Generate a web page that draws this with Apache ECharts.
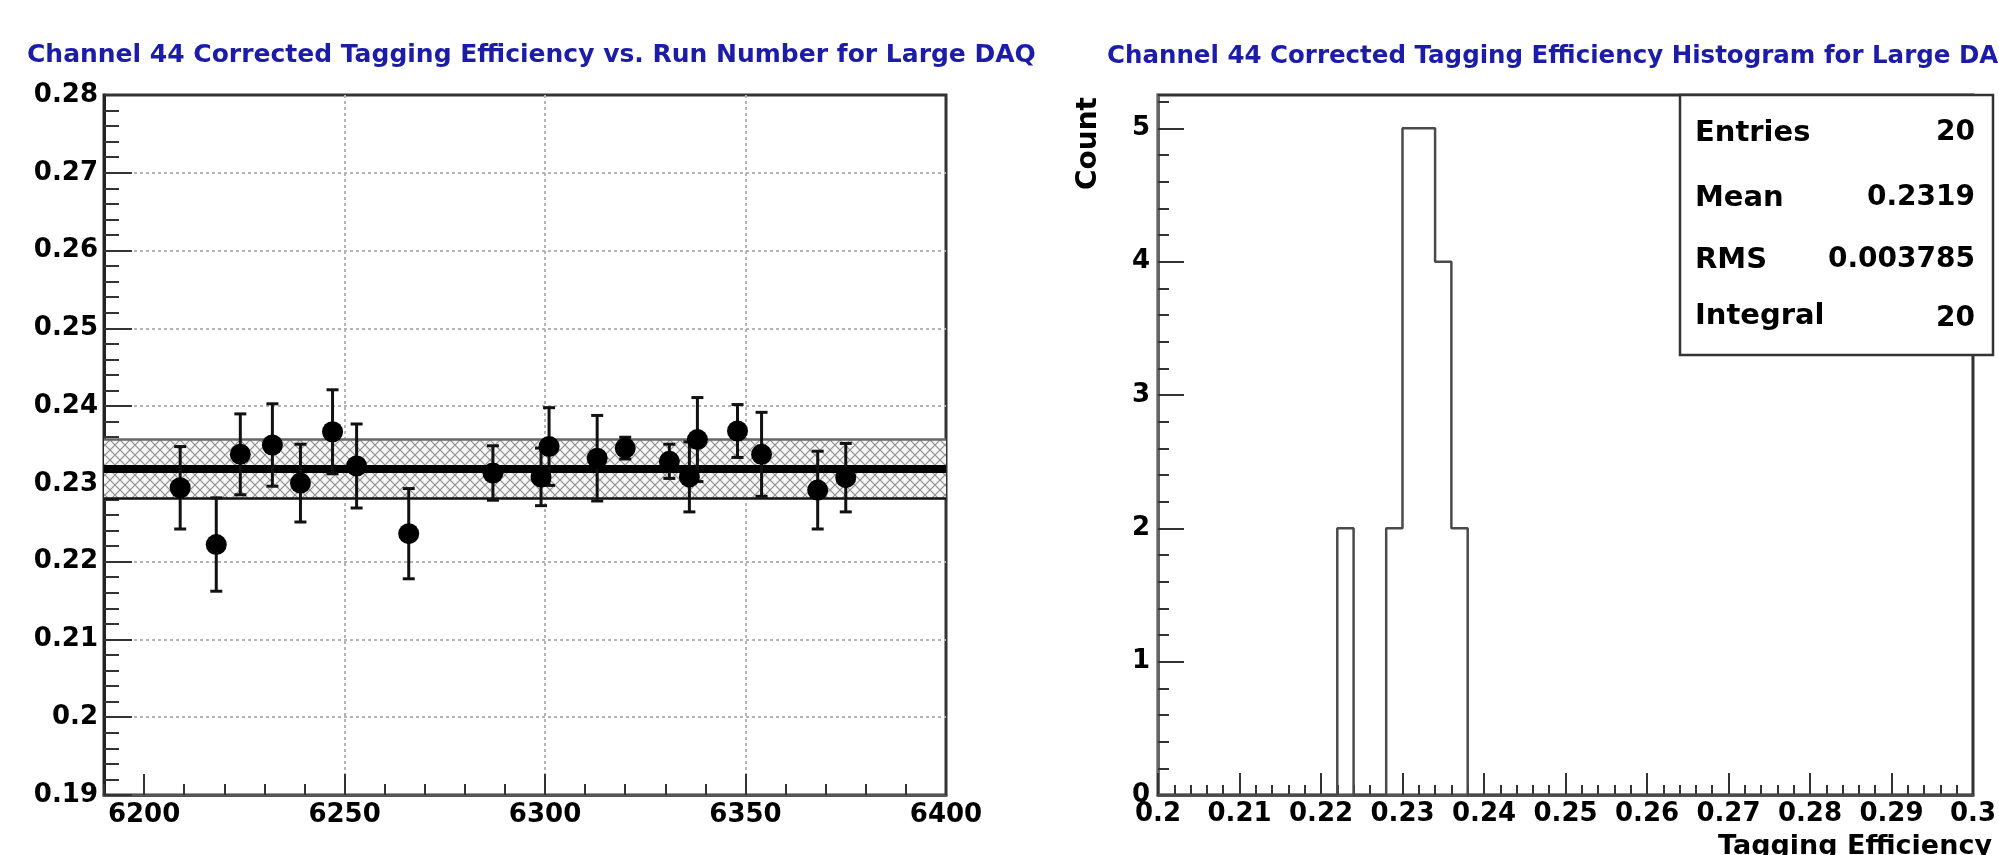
<!DOCTYPE html>
<html>
<head>
<meta charset="utf-8">
<script src="https://cdn.jsdelivr.net/npm/echarts@6/dist/echarts.min.js"></script>
<style>
html,body{margin:0;padding:0;background:#fff;}
#chart{width:1999px;height:855px;}
</style>
</head>
<body>
<div id="chart"></div>
<script>
// ---------- data ----------
const leftTitle = 'Channel 44 Corrected Tagging Efficiency vs. Run Number for Large DAQ';
const rightTitle = 'Channel 44 Corrected Tagging Efficiency Histogram for Large DAQ';

const runs   = [6209, 6218, 6224, 6232, 6239, 6247, 6253, 6266, 6287, 6299,
                6301, 6313, 6320, 6331, 6336, 6338, 6348, 6354, 6368, 6375];
const eff    = [0.2295, 0.2222, 0.2338, 0.2350, 0.2301, 0.2367, 0.2323, 0.2236, 0.2314, 0.2309,
                0.2348, 0.2333, 0.2346, 0.2329, 0.2309, 0.2357, 0.2368, 0.2338, 0.2292, 0.2308];
const effErr = [0.0053, 0.0060, 0.0052, 0.0053, 0.0050, 0.0054, 0.0054, 0.0058, 0.0035, 0.0037,
                0.0050, 0.0055, 0.0014, 0.0022, 0.0045, 0.0054, 0.0034, 0.0054, 0.0050, 0.0044];

const statMean = 0.2319;
const statRms  = 0.003785;

const runTicks   = [6200, 6250, 6300, 6350, 6400];
const effTicks   = [0.19, 0.20, 0.21, 0.22, 0.23, 0.24, 0.25, 0.26, 0.27, 0.28];
const histXTicks = [0.20, 0.21, 0.22, 0.23, 0.24, 0.25, 0.26, 0.27, 0.28, 0.29, 0.30];
const countTicks = [0, 1, 2, 3, 4, 5];

// histogram: 50 bins from 0.2 to 0.3
const histLow = 0.2, histBinWidth = 0.002;
const histCounts = [0,0,0,0,0, 0,0,0,0,0,
                    0,2,0,0,2, 5,5,4,2,0,
                    0,0,0,0,0, 0,0,0,0,0,
                    0,0,0,0,0, 0,0,0,0,0,
                    0,0,0,0,0, 0,0,0,0,0];

const statLabels = ['Entries', 'Mean', 'RMS', 'Integral'];
const statValues = ['20', '0.2319', '0.003785', '20'];

// ---------- derived ----------
const histPoints = [];
for (let i = 0; i < histCounts.length; i++) {
  histPoints.push([+(histLow + i * histBinWidth).toFixed(4), histCounts[i]]);
}
histPoints.push([+(histLow + histCounts.length * histBinWidth).toFixed(4), histCounts[histCounts.length - 1]]);

const pointData = runs.map((r, i) => [r, eff[i], effErr[i]]);

// hatch pattern
const hatch = document.createElement('canvas');
hatch.width = 10; hatch.height = 10;
(function(){
  const c = hatch.getContext('2d');
  c.fillStyle = '#f6f6f6'; c.fillRect(0,0,10,10);
  c.strokeStyle = '#8f8f8f'; c.lineWidth = 1.2;
  c.beginPath();
  c.moveTo(0,0); c.lineTo(10,10);
  c.moveTo(10,0); c.lineTo(0,10);
  c.stroke();
})();

const FONT = 'DejaVu Sans';
const axisLabelStyle = {fontFamily: FONT, fontWeight: 'bold', fontSize: 26, color: '#000'};
const tickLine = {color: '#333', width: 2};
const gridLine = {color: '#b4b4b4', width: 2, type: [3, 3]};
const plain = v => String(+v.toFixed(4));

const chart = echarts.init(document.getElementById('chart'));
const option = {
  backgroundColor: '#fff',
  animation: false,
  title: [
    {text: leftTitle, left: 27, top: 43, padding: 0,
     textStyle: {color: '#1c1ca6', fontFamily: FONT, fontWeight: 'bold', fontSize: 25}},
    {text: rightTitle, left: 1107, top: 44, padding: 0,
     textStyle: {color: '#1c1ca6', fontFamily: FONT, fontWeight: 'bold', fontSize: 24.5}}
  ],
  grid: [
    {left: 104, right: 1053, top: 95, bottom: 60, show: true, borderColor: '#333', borderWidth: 3, backgroundColor: 'transparent'},
    {left: 1158, right: 5, top: 95, bottom: 60, show: true, borderColor: '#333', borderWidth: 3, backgroundColor: 'transparent'}
  ],
  xAxis: [
    {type: 'value', gridIndex: 0, position: 'bottom', min: 6190, max: 6400, interval: 10,
     axisLine: {show: true, lineStyle: {color: '#555', width: 3}},
     axisTick: {show: true, inside: true, length: 21, customValues: runTicks, lineStyle: tickLine},
     axisLabel: {show: true, customValues: runTicks, margin: 7, formatter: plain, ...axisLabelStyle},
     splitLine: {show: true, showMinLine: false, showMaxLine: false, lineStyle: gridLine}},
    {type: 'value', gridIndex: 0, position: 'bottom', min: 6190, max: 6400, interval: 10,
     axisLine: {show: false},
     axisTick: {show: true, inside: true, length: 11, lineStyle: tickLine},
     axisLabel: {show: false}, splitLine: {show: false}},
    {type: 'value', gridIndex: 1, position: 'bottom', min: 0.2, max: 0.3, interval: 0.01,
     axisLine: {show: true, lineStyle: {color: '#555', width: 3}},
     axisTick: {show: true, inside: true, length: 22, customValues: histXTicks, lineStyle: tickLine},
     minorTick: {show: true, splitNumber: 5, length: 10, lineStyle: tickLine},
     axisLabel: {show: true, customValues: histXTicks, margin: 6, formatter: plain, ...axisLabelStyle},
     splitLine: {show: false}}
  ],
  yAxis: [
    {type: 'value', gridIndex: 0, position: 'left', min: 0.19, max: 0.28, interval: 0.01,
     axisLine: {show: true, lineStyle: {color: '#222', width: 3}},
     axisTick: {show: true, inside: true, length: 28, customValues: effTicks, lineStyle: tickLine},
     minorTick: {show: true, splitNumber: 5, length: 15, lineStyle: tickLine},
     axisLabel: {show: true, customValues: effTicks, margin: 6, padding: [8, 0, 0, 0], formatter: plain, ...axisLabelStyle},
     splitLine: {show: true, showMinLine: false, showMaxLine: false, lineStyle: gridLine}},
    {type: 'value', gridIndex: 1, position: 'left', min: 0, max: 5.25, interval: 1,
     axisLine: {show: true, lineStyle: {color: '#666', width: 3}},
     axisTick: {show: true, inside: true, length: 26, customValues: countTicks, lineStyle: tickLine},
     axisLabel: {show: true, customValues: countTicks, margin: 8, formatter: plain, ...axisLabelStyle},
     splitLine: {show: false}},
    {type: 'value', gridIndex: 1, position: 'left', min: 0, max: 5.25, interval: 0.2,
     axisLine: {show: false},
     axisTick: {show: true, inside: true, length: 11, lineStyle: tickLine},
     axisLabel: {show: false}, splitLine: {show: false}}
  ],
  series: [
    {
      type: 'line', xAxisIndex: 0, yAxisIndex: 0, data: pointData.map(d => [d[0], d[1]]),
      showSymbol: false, symbol: 'none', lineStyle: {opacity: 0, width: 0}, silent: true, z: 1,
      markArea: {silent: true, itemStyle: {color: {image: hatch, repeat: 'repeat'}, opacity: 1},
        data: [[{yAxis: statMean - statRms}, {yAxis: statMean + statRms}]]},
      markLine: {silent: true, precision: 6, symbol: ['none', 'none'], label: {show: false},
        data: [
          {yAxis: statMean + statRms, lineStyle: {color: '#666', width: 2.5, type: 'solid'}},
          {yAxis: statMean - statRms, lineStyle: {color: '#111', width: 2.5, type: 'solid'}},
          {yAxis: statMean, lineStyle: {color: '#000', width: 8, type: 'solid'}}
        ]}
    },
    {
      type: 'custom', xAxisIndex: 0, yAxisIndex: 0, data: pointData, z: 5,
      encode: {x: 0, y: 1},
      renderItem: function (params, api) {
        const x = api.value(0), y = api.value(1), e = api.value(2);
        const t = api.coord([x, y + e]), b = api.coord([x, y - e]);
        const w = 6;
        const st = {stroke: '#111', lineWidth: 3};
        return {type: 'group', children: [
          {type: 'line', shape: {x1: t[0], y1: t[1], x2: b[0], y2: b[1]}, style: st},
          {type: 'line', shape: {x1: t[0] - w, y1: t[1], x2: t[0] + w, y2: t[1]}, style: st},
          {type: 'line', shape: {x1: b[0] - w, y1: b[1], x2: b[0] + w, y2: b[1]}, style: st}
        ]};
      }
    },
    {
      type: 'scatter', xAxisIndex: 0, yAxisIndex: 0, data: pointData.map(d => [d[0], d[1]]),
      symbol: 'circle', symbolSize: 21, itemStyle: {color: '#000', opacity: 1}, z: 6
    },
    {
      type: 'line', xAxisIndex: 2, yAxisIndex: 1, data: histPoints, step: 'end',
      symbol: 'none', showSymbol: false, lineStyle: {color: '#4a4a4a', width: 2.5}, z: 3
    }
  ],
  graphic: [
    {type: 'text', x: 1089, y: 97, rotation: Math.PI / 2, z: 50,
     style: {text: 'Count', fontFamily: FONT, fontWeight: 'bold', fontSize: 28, fill: '#000', textAlign: 'right', textVerticalAlign: 'middle'}},
    {type: 'text', x: 1992, y: 833, z: 50,
     style: {text: 'Tagging Efficiency', fontFamily: FONT, fontWeight: 'bold', fontSize: 27, fill: '#000', textAlign: 'right', textVerticalAlign: 'top'}},
    {type: 'rect', z: 100, shape: {x: 1680, y: 95, width: 313, height: 260},
     style: {fill: '#fff', stroke: '#333', lineWidth: 2.5}}
  ].concat(statLabels.map((s, i) => ({
    type: 'text', x: 1695, y: [133, 198, 260, 316][i], z: 101,
    style: {text: s, fontFamily: FONT, fontWeight: 'bold', fontSize: 29, fill: '#000', textAlign: 'left', textVerticalAlign: 'middle'}
  }))).concat(statValues.map((s, i) => ({
    type: 'text', x: 1975, y: [133, 198, 260, 319][i], z: 101,
    style: {text: s, fontFamily: FONT, fontWeight: 'bold', fontSize: 28, fill: '#000', textAlign: 'right', textVerticalAlign: 'middle'}
  })))
};
chart.setOption(option);
</script>
</body>
</html>
